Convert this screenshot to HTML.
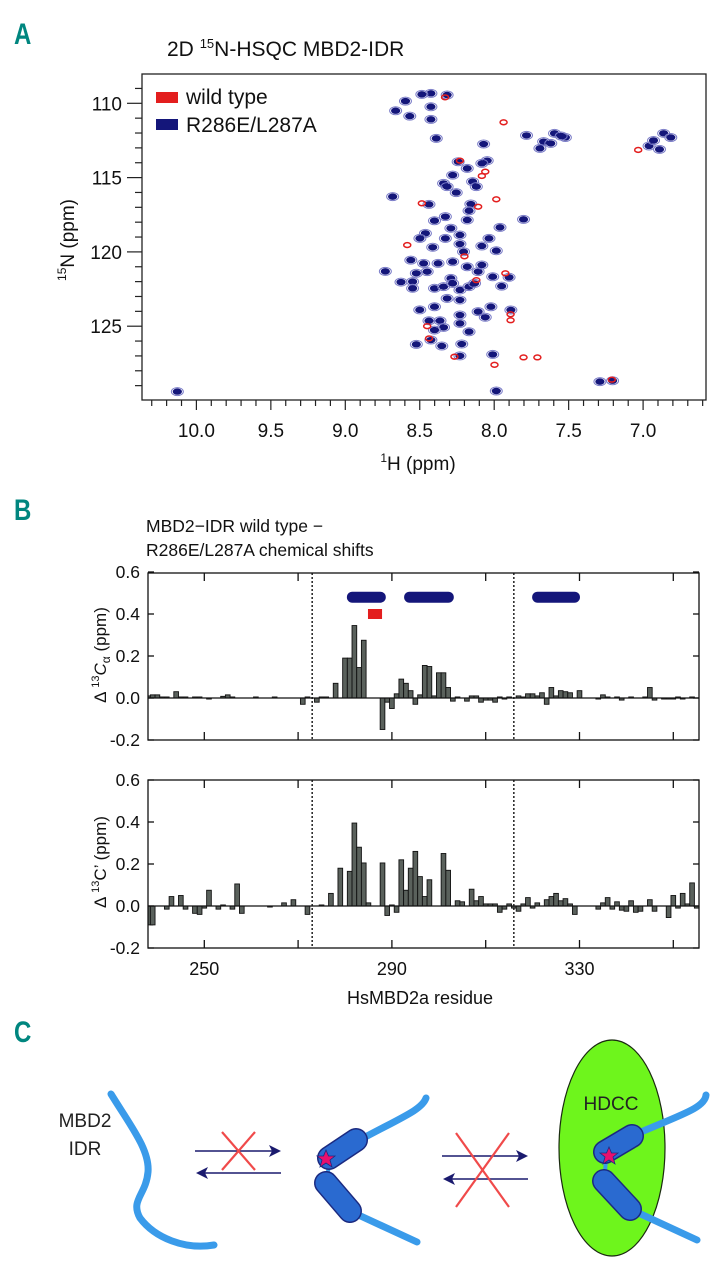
<!DOCTYPE html>
<html><head><meta charset="utf-8"><style>
html,body{margin:0;padding:0;background:#fff;}
svg{display:block;font-family:"Liberation Sans",Arial,sans-serif;}
</style></head><body>
<svg id="fig" width="726" height="1280" viewBox="0 0 726 1280" xmlns="http://www.w3.org/2000/svg">
<g id="pa">
<text x="14" y="44" font-size="30" font-weight="bold" fill="#00867f" transform="scale(0.8,1)" style="transform-origin:14px 44px">A</text>
<text x="167" y="56" font-size="21" fill="#111">2D <tspan font-size="13" dy="-8">15</tspan><tspan dy="8">N-HSQC MBD2-IDR</tspan></text>
<rect x="142" y="74" width="564" height="326" fill="none" stroke="#222" stroke-width="1.3"/>
<g id="peaks"></g>
<g id="axA"></g>
<rect x="156" y="92" width="22" height="11" fill="#e31e1e"/>
<text x="186" y="104" font-size="21" fill="#111">wild type</text>
<rect x="156" y="119" width="22" height="11" fill="#14167a"/>
<text x="186" y="132" font-size="21" fill="#111">R286E/L287A</text>
<text x="418" y="470" font-size="19" text-anchor="middle" fill="#111"><tspan font-size="12" dy="-8">1</tspan><tspan dy="8">H (ppm)</tspan></text>
<text transform="translate(74,240) rotate(-90)" font-size="19" text-anchor="middle" fill="#111"><tspan font-size="12" dy="-8">15</tspan><tspan dy="8">N (ppm)</tspan></text>
</g>
<g id="pb">
<text x="14" y="520" font-size="30" font-weight="bold" fill="#00867f" transform="scale(0.8,1)" style="transform-origin:14px 520px">B</text>
<text x="146" y="532" font-size="17.5" fill="#111">MBD2−IDR wild type −</text>
<text x="146" y="556" font-size="17.5" fill="#111">R286E/L287A chemical shifts</text>
<g id="bars1"></g>
<g id="bars2"></g>
<g id="axB"></g>
<text transform="translate(106,655) rotate(-90)" font-size="17" text-anchor="middle" fill="#111">Δ <tspan font-size="11" dy="-7">13</tspan><tspan dy="7" font-style="italic">C</tspan><tspan font-size="12" dy="4">α</tspan><tspan dy="-4">  (ppm)</tspan></text>
<text transform="translate(106,862) rotate(-90)" font-size="17" text-anchor="middle" fill="#111">Δ <tspan font-size="11" dy="-7">13</tspan><tspan dy="7">C’  (ppm)</tspan></text>
<text x="420" y="1004" font-size="18" text-anchor="middle" fill="#111">HsMBD2a residue</text>
</g>
<g id="pc">
<text x="14" y="1042" font-size="30" font-weight="bold" fill="#00867f" transform="scale(0.8,1)" style="transform-origin:14px 1042px">C</text>
<text x="85" y="1127" font-size="19" text-anchor="middle" fill="#222">MBD2</text>
<text x="85" y="1155" font-size="19" text-anchor="middle" fill="#222">IDR</text>
<path d="M111,1094 C130,1125 150,1150 148,1172 C146,1195 130,1200 140,1218 C155,1238 185,1250 214,1245" fill="none" stroke="#3a9bea" stroke-width="7" stroke-linecap="round"/>
<g>
<line x1="195" y1="1151" x2="274" y2="1151" stroke="#1a1a6e" stroke-width="1.6"/>
<polygon points="281,1151 269,1145 272,1151 269,1157" fill="#1a1a6e"/>
<line x1="204" y1="1173" x2="281" y2="1173" stroke="#1a1a6e" stroke-width="1.6"/>
<polygon points="196,1173 208,1167 205,1173 208,1179" fill="#1a1a6e"/>
<line x1="222" y1="1132" x2="255" y2="1170" stroke="#f04a4a" stroke-width="2.2"/>
<line x1="255" y1="1132" x2="222" y2="1170" stroke="#f04a4a" stroke-width="2.2"/>
</g>
<g>
<path d="M426,1098 C422,1110 400,1118 356,1142" fill="none" stroke="#3a9bea" stroke-width="7" stroke-linecap="round"/>
<path d="M352,1212 L417,1242" fill="none" stroke="#3a9bea" stroke-width="7" stroke-linecap="round"/>
<line x1="329" y1="1160" x2="327" y2="1185" stroke="#3a9bea" stroke-width="4"/>
<line x1="329" y1="1158" x2="356" y2="1140" stroke="#1b2a80" stroke-width="24" stroke-linecap="round"/>
<line x1="329" y1="1158" x2="356" y2="1140" stroke="#2a6ad0" stroke-width="21" stroke-linecap="round"/>
<line x1="326" y1="1183" x2="350" y2="1211" stroke="#1b2a80" stroke-width="24" stroke-linecap="round"/>
<line x1="326" y1="1183" x2="350" y2="1211" stroke="#2a6ad0" stroke-width="21" stroke-linecap="round"/>
<polygon points="326,1150 328.5,1156 335,1156 330,1160 332,1167 326,1163 320,1167 322,1160 317,1156 323.5,1156" fill="#e8106e" stroke="#1b2a80" stroke-width="0.8"/>
</g>
<g>
<line x1="442" y1="1156" x2="521" y2="1156" stroke="#1a1a6e" stroke-width="1.6"/>
<polygon points="528,1156 516,1150 519,1156 516,1162" fill="#1a1a6e"/>
<line x1="451" y1="1179" x2="528" y2="1179" stroke="#1a1a6e" stroke-width="1.6"/>
<polygon points="443,1179 455,1173 452,1179 455,1185" fill="#1a1a6e"/>
<line x1="456" y1="1133" x2="509" y2="1207" stroke="#f04a4a" stroke-width="2.2"/>
<line x1="509" y1="1133" x2="456" y2="1207" stroke="#f04a4a" stroke-width="2.2"/>
</g>
<ellipse cx="612" cy="1148" rx="53" ry="108" fill="#6ef51c" stroke="#1a2a10" stroke-width="1.2"/>
<text x="611" y="1110" font-size="19" text-anchor="middle" fill="#222">HDCC</text>
<g>
<path d="M706,1095 C705,1108 680,1115 634,1135" fill="none" stroke="#3a9bea" stroke-width="7" stroke-linecap="round"/>
<path d="M632,1210 L697,1240" fill="none" stroke="#3a9bea" stroke-width="7" stroke-linecap="round"/>
<line x1="606" y1="1160" x2="604" y2="1182" stroke="#3a9bea" stroke-width="4"/>
<line x1="605" y1="1152" x2="632" y2="1136" stroke="#1b2a80" stroke-width="24" stroke-linecap="round"/>
<line x1="605" y1="1152" x2="632" y2="1136" stroke="#2a6ad0" stroke-width="21" stroke-linecap="round"/>
<line x1="604" y1="1181" x2="630" y2="1209" stroke="#1b2a80" stroke-width="24" stroke-linecap="round"/>
<line x1="604" y1="1181" x2="630" y2="1209" stroke="#2a6ad0" stroke-width="21" stroke-linecap="round"/>
<polygon points="609,1147 611.5,1153 618,1153 613,1157 615,1164 609,1160 603,1164 605,1157 600,1153 606.5,1153" fill="#e8106e" stroke="#1b2a80" stroke-width="0.8"/>
</g>
</g>
</svg>
<script>
// ---------- Panel A data (ppm) ----------
const blueH = [10.128,8.425,8.316,8.596,8.425,8.662,8.425,8.389,8.486,8.567,7.783,8.071,7.668,7.595,7.522,7.693,7.62,7.55,6.960,6.862,6.814,6.93,6.89,8.047,8.083,8.242,8.181,8.279,8.145,8.340,8.120,8.316,8.255,8.682,8.438,8.157,8.169,8.328,8.401,8.181,7.803,8.291,7.961,8.462,8.499,8.328,8.230,8.035,8.230,8.083,8.413,7.986,8.206,8.560,8.474,8.377,8.279,8.181,8.108,8.083,8.010,7.900,8.450,8.523,8.291,8.548,8.548,8.401,8.340,8.279,8.230,8.169,8.132,8.316,8.230,8.401,8.108,8.022,7.888,8.230,8.438,8.364,8.230,8.340,8.401,8.169,8.425,8.352,8.218,8.523,8.230,8.010,7.290,7.205,7.986,8.731,8.626,8.50,7.95,8.06];
const blueN = [129.4,109.33,109.44,109.85,110.23,110.5,111.08,112.36,109.4,110.86,112.16,112.74,112.58,112.02,112.3,113.03,112.7,112.2,112.87,112.02,112.3,112.5,113.1,113.86,114.04,113.93,114.38,114.83,115.27,115.39,115.61,115.61,116.01,116.28,116.8,116.78,117.23,117.63,117.9,117.85,117.81,118.41,118.35,118.75,119.09,119.09,118.86,119.09,119.47,119.6,119.69,119.92,119.99,120.55,120.77,120.77,120.66,121.0,121.33,120.88,121.67,121.71,121.33,121.44,121.78,122.0,122.45,122.45,122.34,122.12,122.56,122.34,122.12,123.13,123.24,123.69,124.02,123.69,123.91,124.25,124.63,124.63,124.81,125.08,125.26,125.37,125.93,126.33,126.2,126.22,127.0,126.9,128.73,128.67,129.36,121.31,122.03,123.9,122.3,124.4];
const redH = [8.230,8.108,8.486,7.925,7.986,7.937,8.083,8.584,8.438,8.267,7.803,7.71,7.998,7.033,8.33,7.21,8.20,8.12,7.89,7.89,8.45,8.06];
const redN = [113.86,116.96,116.73,121.44,116.46,111.28,114.89,119.54,125.82,127.05,127.1,127.1,127.6,113.14,109.6,128.6,120.3,121.9,124.2,124.6,125.0,114.6];
const hTicks = ["10.0","9.5","9.0","8.5","8.0","7.5","7.0"];
const nTicks = ["110","115","120","125"];

// ---------- Panel B data ----------
const caRes = [238,239,240,241,242,244,245,246,248,249,251,254,255,256,261,265,271,272,274,275,276,278,280,281,282,283,284,288,289,290,291,292,293,294,295,296,297,298,299,300,301,302,303,304,306,307,308,309,310,311,312,313,314,315,317,318,319,320,321,322,323,324,325,326,327,328,330,334,335,336,338,339,341,344,345,346,348,349,350,351,352,354];
const caVal = [0.01,0.015,0.015,0.005,0.005,0.03,0.005,0.005,0.005,0.005,-0.005,0.008,0.015,0.005,0.005,0.005,-0.03,0.005,-0.02,0.005,0.005,0.07,0.19,0.19,0.345,0.145,0.275,-0.15,-0.02,-0.05,0.02,0.09,0.07,0.035,-0.03,0.015,0.155,0.15,0.01,0.12,0.12,0.05,-0.015,0.005,-0.015,0.01,0.01,-0.02,-0.01,-0.01,-0.02,0.005,-0.005,0.005,0.01,0.005,0.02,0.02,0.01,0.025,-0.03,0.05,0.01,0.035,0.03,0.025,0.035,-0.005,0.015,0.005,0.005,-0.01,0.005,0.005,0.05,-0.01,-0.005,-0.005,-0.005,0.005,-0.005,0.005];
const coRes = [238,239,242,243,245,246,248,249,250,251,253,254,256,257,258,264,267,269,272,275,277,279,281,282,283,284,285,288,289,290,291,292,293,294,295,296,297,298,301,302,304,305,307,308,309,310,311,312,313,314,315,316,317,318,319,320,321,323,324,325,326,327,328,329,334,335,336,337,338,339,340,341,342,343,345,346,349,350,351,352,353,354,355];
const coVal = [-0.09,-0.09,-0.015,0.045,0.05,-0.015,-0.035,-0.04,-0.01,0.075,-0.015,0.005,-0.015,0.105,-0.035,-0.005,0.015,0.03,-0.04,0.005,0.06,0.18,0.165,0.395,0.28,0.205,0.015,0.205,-0.045,0.005,-0.03,0.22,0.075,0.18,0.26,0.14,0.045,0.125,0.25,0.17,0.025,0.02,0.08,0.025,0.045,0.01,0.01,0.01,-0.03,-0.015,0.01,-0.01,-0.025,0.01,0.04,-0.01,0.015,0.03,0.045,0.06,0.025,0.035,0.01,-0.04,-0.015,0.015,0.04,-0.015,0.02,-0.02,-0.025,0.025,-0.03,-0.025,0.03,-0.025,-0.055,0.05,-0.01,0.06,0.01,0.11,-0.01];
const helixStart = [280.4,292.6,319.9];
const helixEnd = [288.7,303.2,330.1];
const resTicks = ["250","270","290","310","330","350"];
const resLabels = ["250","290","330"];
const shiftTicks = ["0.6","0.4","0.2","0.0","-0.2"];
const boundaryRes = [273,316];

const NS = "http://www.w3.org/2000/svg";
function mk(tag, attrs, parent){const e=document.createElementNS(NS,tag);for(const k in attrs)e.setAttribute(k,attrs[k]);parent.appendChild(e);return e;}

const xH = h => 196.4 + (10 - h) * 148.9;
const yN = n => 103.3 + (n - 110) * 14.86;
const peaks = document.getElementById('peaks');
for (let i=0;i<blueH.length;i++){
  const o = mk('ellipse',{cx:xH(blueH[i]),cy:yN(blueN[i]),rx:6,ry:4,fill:'none',stroke:'#7a7cc8','stroke-width':1},peaks);
  
  
  const e = mk('ellipse',{cx:xH(blueH[i]),cy:yN(blueN[i]),rx:4.6,ry:3.2,fill:'#14167a'},peaks);
  
  
}
for (let i=0;i<redH.length;i++){
  const e = mk('ellipse',{cx:xH(redH[i]),cy:yN(redN[i]),rx:3.5,ry:2.4,fill:'none',stroke:'#e31e1e','stroke-width':1.5},peaks);
  
  
}
const axA = document.getElementById('axA');
for (let k=0;k<=37;k++){
  const h = 10.3 - k*0.1; const x = xH(h);
  if (x<142||x>706) continue;
  const major = Math.abs((h*2) - Math.round(h*2))<1e-6;
  const t = mk('line',{x1:x,y1:400,x2:x,y2:major?410:406,stroke:'#222','stroke-width':1.2},axA);
  
  
}
hTicks.forEach(s=>{
  const t = mk('text',{x:xH(parseFloat(s)),y:437,'font-size':19,'text-anchor':'middle',fill:'#111'},axA);
  t.textContent = s;
  
  
});
for (let n=108;n<=130;n++){
  const y=yN(n); if(y<74||y>400) continue;
  const major = n%5===0;
  const t = mk('line',{x1:major?127:135,y1:y,x2:142,y2:y,stroke:'#222','stroke-width':1.2},axA);
  
  
}
nTicks.forEach(s=>{
  const t = mk('text',{x:122,y:yN(parseFloat(s))+7,'font-size':19,'text-anchor':'end',fill:'#111'},axA);
  t.textContent = s;
  
  
});

const X0=148, X1=699;
const xR = r => 204.3 + (r - 250) * 4.69;
const panels = [{top:573,zero:698,bot:740,res:caRes,val:caVal,g:'bars1',name:'ca-bar'},{top:780,zero:906,bot:948,res:coRes,val:coVal,g:'bars2',name:'co-bar'}];
const axB = document.getElementById('axB');
panels.forEach((p,pi)=>{
  const yV = v => p.zero - v*210;
  const g = document.getElementById(p.g);
  for (let i=0;i<p.res.length;i++){
    const x = xR(p.res[i]) - 2.35, y0 = yV(0), y1 = yV(p.val[i]);
    const b = mk('rect',{x:Math.max(X0,x),y:Math.min(y0,y1),width:4.69,height:Math.max(0.8,Math.abs(y1-y0)),fill:'#5a615c',stroke:'#111','stroke-width':0.9},g);
    
    
  }
  const fr = mk('rect',{x:X0,y:p.top,width:X1-X0,height:p.bot-p.top,fill:'none',stroke:'#111','stroke-width':1.3},axB);
  
  
  const zl = mk('line',{x1:X0,y1:p.zero,x2:X1,y2:p.zero,stroke:'#111','stroke-width':1.3},axB);
  
  
  boundaryRes.forEach(r=>{
    const d = mk('line',{x1:xR(r),y1:p.top,x2:xR(r),y2:p.bot,stroke:'#111','stroke-width':1.4,'stroke-dasharray':'2,2'},axB);
    
    
  });
  resTicks.forEach(s=>{
    const x=xR(parseFloat(s));
    const t1 = mk('line',{x1:x,y1:p.bot,x2:x,y2:p.bot-8,stroke:'#111','stroke-width':1.3},axB);
    
    
    const t2 = mk('line',{x1:x,y1:p.top,x2:x,y2:p.top+8,stroke:'#111','stroke-width':1.3},axB);
    
    
  });
  shiftTicks.forEach(s=>{
    const y=yV(parseFloat(s));
    const a = mk('line',{x1:X0,y1:y,x2:X0+6,y2:y,stroke:'#111','stroke-width':1.3},axB);
    
    
    const b = mk('line',{x1:X1,y1:y,x2:X1-6,y2:y,stroke:'#111','stroke-width':1.3},axB);
    
    
    const t = mk('text',{x:140,y:y+6,'font-size':17.5,'text-anchor':'end',fill:'#111'},axB);
    t.textContent = s;
    
    
  });
  if (pi===0){
    const yH = yV(0.48);
    for (let i=0;i<helixStart.length;i++){
      const x=xR(helixStart[i]), w=xR(helixEnd[i])-x;
      const h = mk('rect',{x:x,y:yH-5.5,width:w,height:11,rx:5.5,fill:'#14167a'},axB);
      
      
    }
    const m = mk('rect',{x:xR(284.9),y:yV(0.4)-5,width:xR(287.9)-xR(284.9),height:10,fill:'#e31e1e'},axB);
    
    
  } else {
    resLabels.forEach(s=>{
      const t = mk('text',{x:xR(parseFloat(s)),y:975,'font-size':18,'text-anchor':'middle',fill:'#111'},axB);
      t.textContent = s;
      
      
    });
  }
});
</script>
</body></html>
